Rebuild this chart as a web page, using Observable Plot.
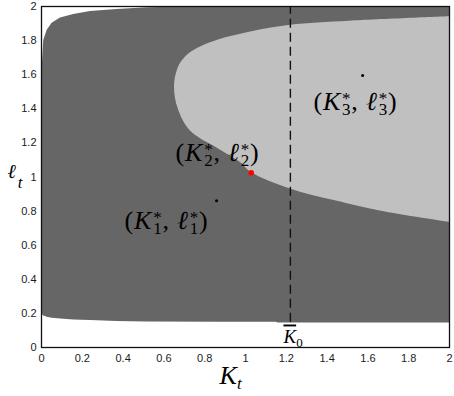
<!DOCTYPE html>
<html><head><meta charset="utf-8">
<script src="https://cdn.jsdelivr.net/npm/d3@7"></script>
<script src="https://cdn.jsdelivr.net/npm/@observablehq/plot@0.6"></script>
<style>body{margin:0;background:#fff}</style>
</head><body><div id="chart"></div>
<script>
// ---- data ----
const tickValues = [0, 0.2, 0.4, 0.6, 0.8, 1, 1.2, 1.4, 1.6, 1.8, 2];
const xMax = 2;
// dark (feasible) region: lower and upper boundary of ℓ for each K
const regionK     = [0, 0.006, 0.011, 0.028, 0.052, 0.093, 0.158, 0.24, 0.37, 0.52, 0.87, 0.88, 1.15, 1.16, 2.0];
const regionLower = [0.2, 0.19, 0.185, 0.178, 0.172, 0.167, 0.162, 0.158, 0.153, 0.149, 0.148, 0.148, 0.148, 0.143, 0.143];
const regionUpper = [1.595, 1.693, 1.8, 1.86, 1.902, 1.933, 1.953, 1.971, 1.982, 1.992, 2.0, 2.0, 2.0, 2.0, 2.0];
// light region: left boundary K for each ℓ (extends to K = 2)
const lightL = [0.733, 0.8, 0.86, 0.93, 1.025, 1.085, 1.17, 1.27, 1.4, 1.53, 1.64, 1.695, 1.74, 1.8, 1.85, 1.89, 1.914, 1.94];
const lightK = [2.0, 1.66, 1.44, 1.22, 1.03, 0.975, 0.86, 0.73, 0.67, 0.652, 0.67, 0.70, 0.745, 0.86, 1.025, 1.22, 1.51, 2.0];
// equilibrium points
const pointK = [0.858, 1.028, 1.574];
const pointL = [0.86, 1.025, 1.595];
const pointColor = ["black", "red", "black"];
const pointLabels = ["(K_1^*, ℓ_1^*)", "(K_2^*, ℓ_2^*)", "(K_3^*, ℓ_3^*)"];
const labelK = [0.407, 0.657, 1.333];
const labelL = [0.741, 1.14, 1.439];
const K0 = 1.22;
const K0Label = "K\u0304_0";
const xLabel = "K_t";
const yLabel = "ℓ_t";

// ---- tables ----
const region = regionK.map((k, i) => ({k, lo: regionLower[i], hi: regionUpper[i]}));
const light = lightL.map((l, i) => ({l, k: lightK[i], k2: xMax}));
const points = pointK.map((k, i) => ({k, l: pointL[i], c: pointColor[i]}));
const labels = pointLabels.map((t, i) => ({t, k: labelK[i], l: labelL[i]}));

const fmt = d => String(+d.toFixed(1));
const serif = "Liberation Serif, Times New Roman, serif";

const svg = Plot.plot({
  width: 454, height: 396,
  marginLeft: 41, marginRight: 5, marginTop: 6, marginBottom: 49,
  x: {domain: [0, 2]},
  y: {domain: [0, 2]},
  style: {fontFamily: "Liberation Sans, Arial, sans-serif", fontSize: "11px", color: "#1a1a1a", background: "#fff"},
  marks: [
    Plot.areaY(region, {x: "k", y1: "lo", y2: "hi", fill: "#666666"}),
    Plot.areaX(light, {y: "l", x1: "k", x2: "k2", fill: "#c0c0c0", curve: "catmull-rom"}),
    Plot.ruleX([K0], {y1: 0.148, y2: 2, stroke: "#111", strokeWidth: 1.4, strokeDasharray: "9,5"}),
    Plot.dot(points.filter(d => d.c === "black"), {x: "k", y: "l", r: 1.5, fill: "c", stroke: null}),
    Plot.dot(points.filter(d => d.c === "red"), {x: "k", y: "l", r: 2.8, fill: "c", stroke: null}),
    Plot.text(labels, {x: "k", y: "l", text: "t", textAnchor: "start", fontSize: 26, fontFamily: serif, fill: "#000"}),
    Plot.text([K0Label], {x: () => 1.186, y: () => 0.065, textAnchor: "start", fontSize: 19, fontFamily: serif, fill: "#000"}),
    Plot.text([yLabel], {x: () => 0, y: () => 1.03, dx: -34, textAnchor: "start", fontSize: 20, fontFamily: serif, fill: "#000"}),
    Plot.text([xLabel], {x: () => 0.873, y: () => 0, dy: 28, textAnchor: "start", fontSize: 26, fontFamily: serif, fill: "#000"}),
    Plot.axisX({ticks: tickValues, tickSize: 0, tickPadding: 7, tickFormat: fmt, label: null}),
    Plot.axisY({ticks: tickValues, tickSize: 0, tickPadding: 5, tickFormat: fmt, label: null}),
    Plot.frame({stroke: "#111", strokeWidth: 1.3})
  ]
});
document.getElementById("chart").append(svg);

// ---- render simple math markup (_ subscript, ^ superscript, combining macron = overline) ----
const mathOpts = {
  [K0Label]: {script: 13, sup: -6, sub: 4},
  [yLabel]: {script: 17, sup: -7, sub: 10, gap: 2},
  [xLabel]: {script: 17, sup: -7, sub: 5, gap: 0}
};
pointLabels.forEach(s => mathOpts[s] = {script: 17, sup: -6, sub: 5, gap: 1, spacing: 0.8});

function renderMath(el, src, opt) {
  const sel = d3.select(el);
  sel.text(null);
  if (opt.spacing) sel.attr("letter-spacing", opt.spacing);
  let cur = 0, pendingDx = 0, i = 0;
  const add = (str, o = {}) => {
    const t = sel.append("tspan").text(str);
    if (o.italic) t.attr("font-style", "italic");
    if (o.size) t.attr("font-size", o.size);
    const shift = o.shift || 0;
    if (shift - cur) t.attr("dy", shift - cur);
    cur = shift;
    const dx = (o.dx || 0) + pendingDx; pendingDx = 0;
    if (dx) t.attr("dx", dx);
    if (o.over) t.style("text-decoration", "overline");
    return t.node();
  };
  while (i < src.length) {
    const c = src[i];
    if (c === "_" || c === "^") {
      let sub = null, sup = null;
      while (i < src.length && (src[i] === "_" || src[i] === "^")) {
        if (src[i] === "_") sub = src[i + 1]; else sup = src[i + 1];
        i += 2;
      }
      let w1 = 0, w2 = 0;
      if (sup) { w1 = add(sup, {size: opt.script, shift: opt.sup, dx: opt.gap || 0}).getComputedTextLength(); }
      if (sub) { w2 = add(sub, {size: opt.script, shift: opt.sub, italic: /[a-z]/.test(sub), dx: sup ? -w1 : (opt.gap || 0)}).getComputedTextLength(); }
      if (sup && sub) pendingDx = Math.max(0, w1 - w2);
      continue;
    }
    const letter = /[A-Za-zℓ]/.test(c);
    let j = i + 1, over = false;
    if (src[j] === "\u0304") { over = true; j++; }
    add(c, {italic: letter, over});
    i = j;
  }
}
d3.select(svg).selectAll("text").each(function () {
  const s = this.textContent;
  if (mathOpts[s]) renderMath(this, s, mathOpts[s]);
});
</script>
</body></html>
